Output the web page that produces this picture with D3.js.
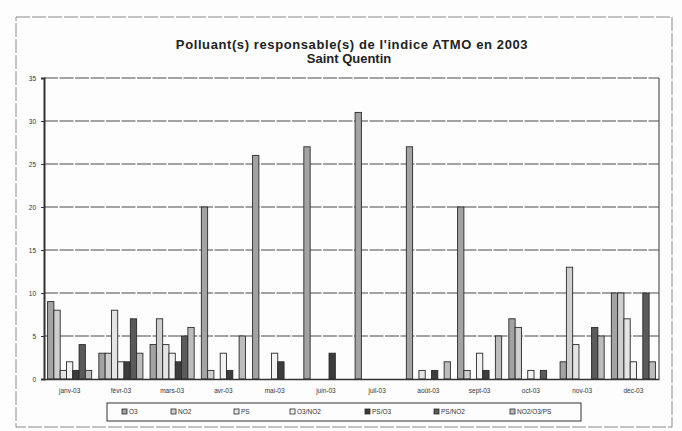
<!DOCTYPE html>
<html>
<head>
<meta charset="utf-8">
<script src="https://cdn.jsdelivr.net/npm/d3@7"></script>
<style>
  html, body { margin: 0; padding: 0; background: #fff; }
  svg { display: block; font-family: "Liberation Sans", Arial, sans-serif; }
</style>
</head>
<body>
<svg id="chart" width="682" height="431"></svg>
<script>
// Months of 2003
const months = ["janv-03", "févr-03", "mars-03", "avr-03", "mai-03", "juin-03",
                "juil-03", "août-03", "sept-03", "oct-03", "nov-03", "déc-03"];

// Number of days each pollutant (or combination) set the ATMO index
const seriesNames = ["O3", "NO2", "PS", "O3/NO2", "PS/O3", "PS/NO2", "NO2/O3/PS"];
const o3      = [9, 3, 4, 20, 26, 27, 31, 27, 20, 7, 2, 10];
const no2     = [8, 3, 7, 1, 0, 0, 0, 0, 1, 6, 13, 10];
const ps      = [1, 8, 4, 0, 0, 0, 0, 1, 0, 0, 4, 7];
const o3no2   = [2, 2, 3, 3, 3, 0, 0, 0, 3, 1, 0, 2];
const pso3    = [1, 2, 2, 1, 2, 3, 0, 1, 1, 0, 0, 0];
const psno2   = [4, 7, 5, 0, 0, 0, 0, 0, 0, 1, 6, 10];
const no2o3ps = [1, 3, 6, 5, 0, 0, 0, 2, 5, 0, 5, 2];
const seriesValues = [o3, no2, ps, o3no2, pso3, psno2, no2o3ps];

const yTicks = [0, 5, 10, 15, 20, 25, 30, 35];

const fills = ["#a3a3a3", "#cfcfcf", "#e4e4e4", "#f2f2f2", "#3c3c3c", "#5a5a5a", "#bdbdbd"];

const svg = d3.select("#chart");
const W = 682, H = 431;
const plot = { left: 44, right: 659, top: 78, bottom: 379 };

svg.append("rect").attr("width", W).attr("height", H).attr("fill", "#fdfdfd");

// outer frame of the chart
svg.append("rect")
  .attr("x", 16).attr("y", 17).attr("width", 656).attr("height", 410)
  .attr("fill", "none").attr("stroke", "#8a8a8a").attr("stroke-width", 1)
  .attr("stroke-dasharray", "14,2");

// title
svg.append("text").attr("x", 352).attr("y", 49).attr("text-anchor", "middle")
  .attr("font-size", 13).attr("font-weight", "bold").attr("fill", "#222")
  .attr("letter-spacing", 0.6)
  .text("Polluant(s) responsable(s) de l'indice ATMO en 2003");
svg.append("text").attr("x", 349).attr("y", 63).attr("text-anchor", "middle")
  .attr("font-size", 13).attr("font-weight", "bold").attr("fill", "#222")
  .text("Saint Quentin");

const x0 = d3.scaleBand().domain(months).range([plot.left, plot.right]).paddingInner(0.14).paddingOuter(0.07);
const x1 = d3.scaleBand().domain(seriesNames).range([0, x0.bandwidth()]);
const y = d3.scaleLinear().domain([0, 35]).range([plot.bottom, plot.top]);

// horizontal gridlines
svg.append("g").selectAll("line").data(yTicks.filter(d => d > 0)).join("line")
  .attr("x1", plot.left).attr("x2", plot.right)
  .attr("y1", d => y(d)).attr("y2", d => y(d))
  .attr("stroke", "#4a4a4a").attr("stroke-width", 1.2).attr("stroke-dasharray", "14,1.5");

// right border of plot area
svg.append("line").attr("x1", plot.right).attr("x2", plot.right)
  .attr("y1", plot.top).attr("y2", plot.bottom).attr("stroke", "#555").attr("stroke-width", 1.2);

// bars
const groups = svg.append("g").selectAll("g").data(months).join("g")
  .attr("transform", d => `translate(${x0(d)},0)`);
groups.selectAll("rect")
  .data((m, i) => seriesNames.map((s, j) => ({ s, j, v: seriesValues[j][i] })))
  .join("rect")
  .filter(d => d.v > 0)
  .attr("x", d => x1(d.s))
  .attr("y", d => y(d.v))
  .attr("width", x1.bandwidth())
  .attr("height", d => y(0) - y(d.v))
  .attr("fill", d => fills[d.j])
  .attr("stroke", "#2a2a2a").attr("stroke-width", 0.9);

// y axis
const yAxis = svg.append("g").attr("transform", `translate(${plot.left},0)`)
  .call(d3.axisLeft(y).tickValues(yTicks).tickSize(3).tickPadding(5));
yAxis.select(".domain").attr("stroke", "#333").attr("stroke-width", 2);
yAxis.selectAll("line").attr("stroke", "#333");
yAxis.selectAll("text").attr("font-size", 6.5).attr("fill", "#333");

// x axis
const xAxis = svg.append("g").attr("transform", `translate(0,${plot.bottom})`)
  .call(d3.axisBottom(x0).tickSize(0).tickPadding(9));
xAxis.select(".domain").attr("stroke", "#333").attr("stroke-width", 1.5);
xAxis.selectAll("text").attr("font-size", 6.5).attr("fill", "#333");

// legend
const legend = svg.append("g");
legend.append("rect").attr("x", 107).attr("y", 403).attr("width", 474).attr("height", 18)
  .attr("fill", "none").attr("stroke", "#333").attr("stroke-width", 1);
const legendX = [122, 171, 234, 290, 365, 434, 510];
const items = legend.selectAll("g").data(seriesNames).join("g")
  .attr("transform", (d, i) => `translate(${legendX[i]},412)`);
items.append("rect").attr("x", 0).attr("y", -3).attr("width", 5).attr("height", 5)
  .attr("fill", (d, i) => fills[i]).attr("stroke", "#2a2a2a").attr("stroke-width", 0.8);
items.append("text").attr("x", 7).attr("y", 2).attr("font-size", 6.5).attr("fill", "#333")
  .text(d => d);
</script>
</body>
</html>
